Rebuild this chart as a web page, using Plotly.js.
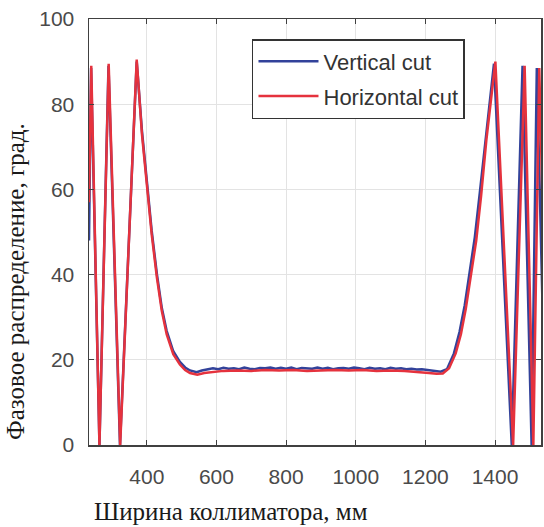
<!DOCTYPE html>
<html>
<head>
<meta charset="utf-8">
<script src="https://cdn.plot.ly/plotly-3.0.1.min.js"></script>
<style>html,body{margin:0;padding:0;background:#fff;}#chart{width:544px;height:527px;}</style>
</head>
<body>
<div id="chart"></div>
<script>
// Vertical cut (blue)
var vertX = [234, 240, 264, 290, 323, 371, 386, 400, 414, 429, 443, 457, 476, 495, 510, 524,
  543, 558, 572, 590,
  605, 620, 635, 650, 665, 680, 695, 710, 725, 740, 755, 770, 785, 800, 815, 830, 845, 860, 875, 890,
  905, 920, 935, 950, 965, 980, 995, 1010, 1025, 1040, 1055, 1070, 1085, 1100, 1115, 1130, 1145, 1160,
  1175, 1190, 1210,
  1228, 1244, 1262, 1282, 1298, 1313, 1327, 1342, 1356, 1371,
  1397, 1448, 1479, 1505, 1520, 1546];
var vertY = [48, 88.5, 0, 89, 0, 90, 73.8, 61.2, 50.3, 40.1, 32.2, 26.8, 22.0, 19.5, 18.2, 17.5,
  17.1, 17.5, 17.7, 18.0,
  17.8, 18.1, 17.9, 18.0, 17.8, 18.2, 17.9, 17.8, 18.1, 18.0, 18.2, 17.9, 18.1, 17.9, 18.2, 17.8, 18.1, 18.0, 17.9, 18.2,
  17.9, 18.1, 17.8, 18.0, 18.1, 17.9, 18.2, 18.0, 17.8, 18.1, 17.9, 18.0, 17.8, 18.1, 17.9, 18.0, 17.8, 17.9,
  17.7, 17.8, 17.6,
  17.3, 17.2, 17.8, 21.5, 26.5, 32.8, 40.5, 48.8, 59.0, 70.5,
  89.5, 0, 89, 0, 88.5, 0];
// Horizontal cut (red)
var horX = [234, 240.5, 264, 290.5, 323.5, 371, 386, 400, 414, 429, 443, 457, 476, 495, 510, 524,
  545, 565, 590, 620, 660, 700, 740, 780, 820, 860, 900, 940, 980, 1020, 1060, 1100, 1140, 1180, 1210,
  1232, 1250, 1268, 1287, 1302, 1316, 1331, 1346, 1360, 1375,
  1401, 1452, 1485, 1510, 1527, 1553];
var horY = [57, 89, 0, 89.5, 0, 90.5, 73.0, 60.5, 49.5, 39.3, 31.5, 26.0, 21.3, 18.9, 17.6, 16.9,
  16.5, 16.9, 17.2, 17.4, 17.5, 17.4, 17.6, 17.5, 17.6, 17.4, 17.5, 17.6, 17.5, 17.6, 17.4, 17.5, 17.4, 17.2, 16.9,
  16.7, 16.8, 18.0, 21.5, 26.0, 32.0, 40.0, 48.0, 58.5, 71.5,
  90, 0, 89, 0, 88.5, 0];

var seriesNames = ['Vertical cut', 'Horizontal cut'];
var xTicks = [400, 600, 800, 1000, 1200, 1400];
var yTicks = [0, 20, 40, 60, 80, 100];
var xTitle = 'Ширина коллиматора, мм';
var yTitle = 'Фазовое распределение, град.';

var traces = [
  {x: vertX, y: vertY, type: 'scatter', mode: 'lines', name: seriesNames[0], legendgroup: 'a',
   line: {color: '#32429a', width: 2.5}},
  {x: horX, y: horY, type: 'scatter', mode: 'lines', name: seriesNames[1], legendgroup: 'b',
   line: {color: '#e5323d', width: 2.5}}
];

var tickFont = {family: 'Liberation Sans, Arial, sans-serif', size: 21, color: '#4a4a4a'};
var layout = {
  width: 544, height: 527,
  margin: {l: 89, r: 3, t: 19, b: 82},
  paper_bgcolor: '#fff', plot_bgcolor: '#fff',
  showlegend: true,
  legend: {x: 0.3606, y: 0.953, xanchor: 'left', yanchor: 'top',
    bgcolor: '#fff', bordercolor: '#333', borderwidth: 1.5,
    font: {family: 'Liberation Sans, Arial, sans-serif', size: 22, color: '#333'},
    itemwidth: 60, tracegroupgap: 3, traceorder: 'grouped'},
  xaxis: {range: [234, 1532], tickvals: xTicks, ticktext: xTicks.map(String),
    showgrid: true, gridcolor: '#e3e3e3', gridwidth: 1, zeroline: false,
    showline: true, linecolor: '#404040', linewidth: 1.5, mirror: 'ticks',
    ticks: 'inside', ticklen: 5, tickcolor: '#404040', tickwidth: 1,
    tickfont: tickFont, ticklabelstandoff: 12},
  yaxis: {range: [0, 100], tickvals: yTicks, ticktext: yTicks.map(String),
    showgrid: true, gridcolor: '#e3e3e3', gridwidth: 1, zeroline: false,
    showline: true, linecolor: '#404040', linewidth: 1.5, mirror: 'ticks',
    ticks: 'inside', ticklen: 5, tickcolor: '#404040', tickwidth: 1,
    tickfont: tickFont, ticklabelstandoff: 9},
  annotations: [
    {text: xTitle, xref: 'paper', yref: 'paper', x: 0.0066, y: -0.155,
     xanchor: 'left', yanchor: 'middle', showarrow: false,
     font: {family: 'Liberation Serif, Times New Roman, serif', size: 25, color: '#1a1a1a'}},
    {text: yTitle, xref: 'paper', yref: 'paper', x: -0.1637, y: 0.3826,
     xanchor: 'center', yanchor: 'middle', textangle: -90, showarrow: false,
     font: {family: 'Liberation Serif, Times New Roman, serif', size: 25, color: '#1a1a1a'}}
  ]
};
Plotly.newPlot('chart', traces, layout, {displayModeBar: false, staticPlot: true});
</script>
</body>
</html>
